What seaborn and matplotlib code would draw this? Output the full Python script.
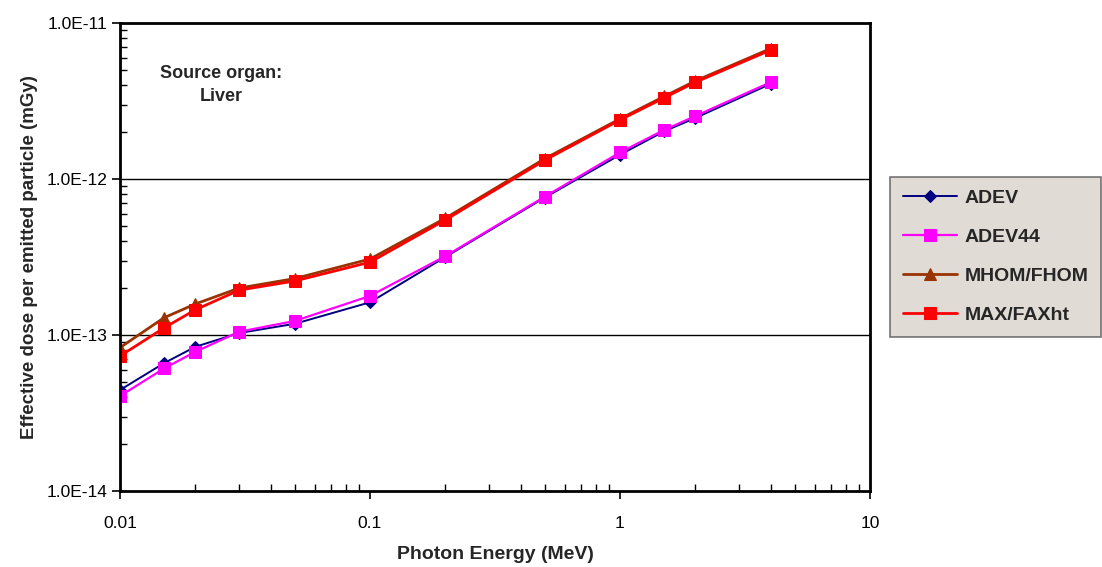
import numpy as np
import pandas as pd
import seaborn as sns
import matplotlib
matplotlib.use("Agg")
import matplotlib.pyplot as plt
from matplotlib.ticker import LogLocator, FixedLocator, FixedFormatter, NullFormatter

energy = [0.01, 0.015, 0.02, 0.03, 0.05, 0.1, 0.2, 0.5, 1.0, 1.5, 2.0, 4.0]
adev = [4.44e-14, 6.6e-14, 8.4e-14, 1.03e-13, 1.18e-13, 1.62e-13, 3.16e-13, 7.6e-13, 1.43e-12, 2.02e-12, 2.46e-12, 4.07e-12]
adev44 = [4.06e-14, 6.1e-14, 7.8e-14, 1.05e-13, 1.23e-13, 1.78e-13, 3.2e-13, 7.7e-13, 1.48e-12, 2.06e-12, 2.53e-12, 4.17e-12]
mhom = [8.3e-14, 1.29e-13, 1.58e-13, 2.0e-13, 2.3e-13, 3.07e-13, 5.6e-13, 1.35e-12, 2.43e-12, 3.38e-12, 4.25e-12, 6.85e-12]
maxfax = [7.33e-14, 1.11e-13, 1.45e-13, 1.94e-13, 2.22e-13, 2.93e-13, 5.46e-13, 1.32e-12, 2.39e-12, 3.31e-12, 4.17e-12, 6.7e-12]

series_names = ["ADEV", "ADEV44", "MHOM/FHOM", "MAX/FAXht"]
series_values = [adev, adev44, mhom, maxfax]
colors = ["#000080", "#FF00FF", "#993300", "#FF0000"]
markers = ["D", "s", "^", "s"]
msizes = [6.5, 8.5, 8.5, 9]
lwidths = [1.4, 1.6, 2.0, 2.0]

x_ticks = [0.01, 0.1, 1, 10]
x_ticklabels = ["0.01", "0.1", "1", "10"]
y_ticks = [1e-14, 1e-13, 1e-12, 1e-11]
y_ticklabels = ["1.0E-14", "1.0E-13", "1.0E-12", "1.0E-11"]

rows = []
for name, vals in zip(series_names, series_values):
    for e, v in zip(energy, vals):
        rows.append({"Energy": e, "Dose": v, "Series": name})
df = pd.DataFrame(rows)

sns.set_theme(style="white")
plt.rcParams['font.family'] = ['Liberation Sans', 'DejaVu Sans']

fig = plt.figure(figsize=(11.02, 5.67), dpi=100)
ax = fig.add_axes([120/1102, 1-491/567, 750/1102, 468/567])

for name, col, mk, ms, lw in zip(series_names, colors, markers, msizes, lwidths):
    sub = df[df["Series"] == name]
    sns.lineplot(data=sub, x="Energy", y="Dose", ax=ax, color=col, marker=mk,
                 markersize=ms, linewidth=lw, markeredgecolor=col, label=name,
                 estimator=None, sort=True)

ax.set_xscale("log")
ax.set_yscale("log")
ax.set_xlim(0.01, 10)
ax.set_ylim(1e-14, 1e-11)

ax.xaxis.set_major_locator(FixedLocator(x_ticks))
ax.xaxis.set_major_formatter(FixedFormatter(x_ticklabels))
ax.yaxis.set_major_locator(FixedLocator(y_ticks))
ax.yaxis.set_major_formatter(FixedFormatter(y_ticklabels))
ax.xaxis.set_minor_locator(LogLocator(base=10, subs=np.arange(2, 10), numticks=20))
ax.yaxis.set_minor_locator(LogLocator(base=10, subs=np.arange(2, 10), numticks=20))
ax.xaxis.set_minor_formatter(NullFormatter())
ax.yaxis.set_minor_formatter(NullFormatter())

ax.tick_params(axis="both", which="major", direction="out", length=6, width=1.2,
               labelsize=12.5, colors="black", left=True, bottom=True)
ax.tick_params(axis="x", which="major", pad=12)
ax.tick_params(axis="y", which="major", pad=3)
ax.tick_params(axis="both", which="minor", direction="in", length=5, width=1,
               left=True, bottom=True, colors="black")

ax.grid(False)
for yv in [1e-13, 1e-12]:
    ax.axhline(yv, color="black", linewidth=1, zorder=0)

for sp in ax.spines.values():
    sp.set_visible(True)
    sp.set_color("black")
    sp.set_linewidth(2)

ax.set_xlabel("Photon Energy (MeV)", fontsize=14, fontweight="bold", labelpad=11)
ax.set_ylabel("Effective dose per emitted particle (mGy)", fontsize=13.5, fontweight="bold", labelpad=6)

ax.text(0.135, 0.867, "Source organ:\nLiver", transform=ax.transAxes, ha="center", va="center",
        fontsize=13, fontweight="bold", linespacing=1.5)

handles, labels = ax.get_legend_handles_labels()
leg = fig.legend(handles, labels, loc="upper left", bbox_to_anchor=(890/1102, 1-177/567),
                 frameon=True, fancybox=False, facecolor="#D9D3CB", edgecolor="#555555",
                 prop={"weight": "bold", "size": 14}, handlelength=2.8, labelspacing=1.1,
                 borderpad=0.65, handletextpad=0.4, borderaxespad=0)
leg.get_frame().set_linewidth(1.2)
if ax.get_legend():
    ax.get_legend().remove()

fig.savefig("out.png", dpi=100)
